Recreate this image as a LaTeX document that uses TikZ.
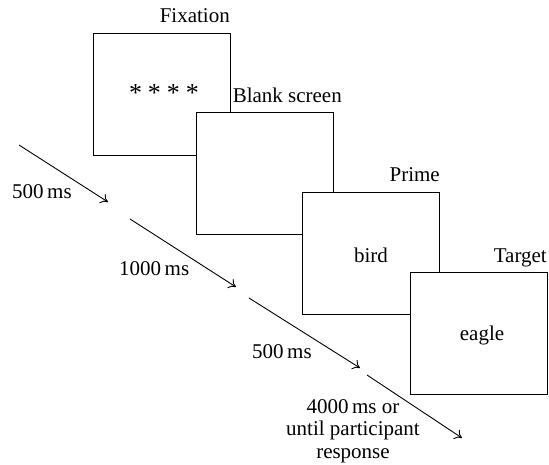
\documentclass[tikz,border=0pt]{standalone}
\usepackage{fontspec}
\setmainfont{Liberation Serif}
\usetikzlibrary{arrows.meta}
\begin{document}
\begin{tikzpicture}[x=1pt,y=-1pt,
  screen/.style={draw, line width=1.1pt, fill=white, minimum width=137pt, minimum height=122pt, inner sep=0pt, anchor=north west},
  lbl/.style={inner sep=0pt, font=\fontsize{21}{23}\selectfont},
  timearrow/.style={line width=0.9pt, -{To[length=7pt,width=11pt]}}]
\useasboundingbox (0,0) rectangle (549,465);
\node[screen] (fix) at (93,33) {};
\node[inner sep=0pt, font=\fontsize{26}{26}\selectfont, anchor=center] (fixs) at (164,93) {*\hspace{6pt}*\hspace{6pt}*\hspace{6pt}*};
\node[screen] (blank) at (196,112) {};
\node[screen] (prime) at (302,192) {};
\node[lbl] (bird) at ([yshift=-2pt]prime.center) {bird};
\node[screen] (target) at (410,272) {};
\node[lbl] (eagle) at ([xshift=3pt,yshift=-2pt]target.center) {eagle};
\node[lbl, anchor=base east] (lfix) at (230,23) {Fixation};
\node[lbl, anchor=base east] (lblank) at (342,103) {Blank screen};
\node[lbl, anchor=base east] (lprime) at (440,182) {Prime};
\node[lbl, anchor=base east] (ltarget) at (547,262) {Target};
\coordinate (a1s) at (19,145); \coordinate (a1e) at (108,202);
\coordinate (a2s) at (130,219); \coordinate (a2e) at (236,287);
\coordinate (a3s) at (249,298); \coordinate (a3e) at (360,368);
\coordinate (a4s) at (367,375); \coordinate (a4e) at (462,438);
\draw[timearrow] (a1s) -- (a1e);
\draw[timearrow] (a2s) -- (a2e);
\draw[timearrow] (a3s) -- (a3e);
\draw[timearrow] (a4s) -- (a4e);
\node[lbl, anchor=base west] (t1) at (12,199) {500\,ms};
\node[lbl, anchor=base west] (t2) at (119,276) {1000\,ms};
\node[lbl, anchor=base west] (t3) at (252,358) {500\,ms};
\node[lbl, anchor=north, align=center, font=\fontsize{21}{22.5}\selectfont] (t4) at (353,399) {4000\,ms or\\until participant\\response};
\end{tikzpicture}
\end{document}
